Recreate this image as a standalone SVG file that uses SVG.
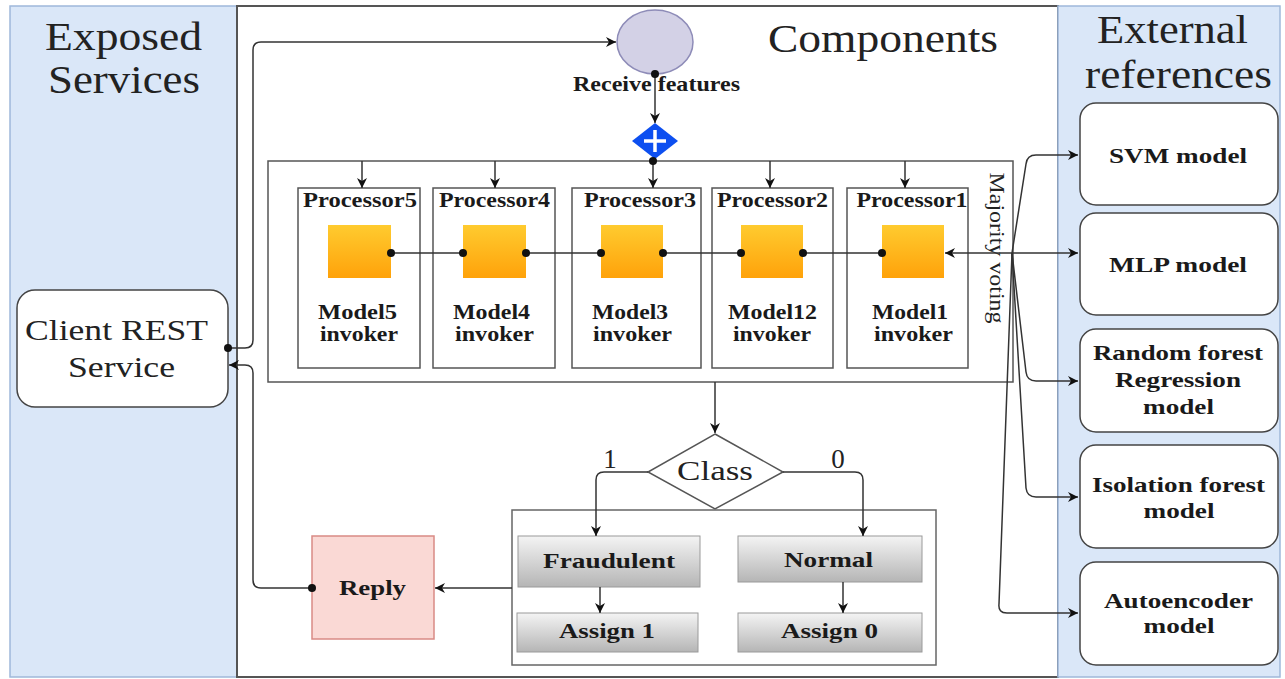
<svg xmlns="http://www.w3.org/2000/svg" width="1285" height="679" viewBox="0 0 1285 679">
<defs>
<marker id="ah" viewBox="0 0 10 10" refX="10" refY="5" markerWidth="10" markerHeight="10" orient="auto-start-reverse" markerUnits="userSpaceOnUse"><path d="M0,0 L10,5 L0,10 L3,5 z" fill="#111"/></marker>
<linearGradient id="gy" x1="0" y1="0" x2="0" y2="1"><stop offset="0" stop-color="#ffcb2f"/><stop offset="1" stop-color="#ffa20a"/></linearGradient>
<linearGradient id="gg" x1="0" y1="0" x2="0" y2="1"><stop offset="0" stop-color="#f4f4f4"/><stop offset="1" stop-color="#b5b5b5"/></linearGradient>
</defs>
<style>
.panel{fill:#dae7f8;stroke:#9fb8da;stroke-width:1.5}
.mid{fill:#fff;stroke:#555;stroke-width:2}
.box{fill:#fff;stroke:#555;stroke-width:1.5}
.rbox{fill:#fff;stroke:#444;stroke-width:1.5}
.ybox{fill:url(#gy);stroke:none}
.gbox{fill:url(#gg);stroke:#9a9a9a;stroke-width:1}
.ln{fill:none;stroke:#333;stroke-width:1.5}
.arr{fill:none;stroke:#333;stroke-width:1.5;marker-end:url(#ah)}
.dot{fill:#111}
.t{font-family:"Liberation Serif","Times New Roman",serif;fill:#222}
.big{font-size:41px}
.med{font-size:30px}
.b{font-weight:bold;font-size:21px;fill:#1a1a1a}
.c{text-anchor:middle}
</style>
<g id="panel-exposed">
<rect class="panel" x="10" y="6" width="227" height="671"/>
<text class="t big c" x="123.5" y="50" textLength="157" lengthAdjust="spacingAndGlyphs">Exposed</text>
<text class="t big c" x="124" y="93" textLength="152" lengthAdjust="spacingAndGlyphs">Services</text>
</g>
<g id="panel-components">
<rect class="mid" x="237" y="6" width="821" height="671"/>
<text class="t big c" x="883" y="52" textLength="230" lengthAdjust="spacingAndGlyphs">Components</text>
</g>
<g id="panel-external">
<rect class="panel" x="1058" y="6" width="222" height="671"/>
<text class="t big c" x="1172.5" y="43" textLength="151" lengthAdjust="spacingAndGlyphs">External</text>
<text class="t big c" x="1178.5" y="88" textLength="187" lengthAdjust="spacingAndGlyphs">references</text>
</g>
<g id="client-rest">
<rect class="rbox" x="17" y="290" width="211" height="117" rx="18"/>
<text class="t med c" x="116.5" y="340" textLength="183" lengthAdjust="spacingAndGlyphs">Client REST</text>
<text class="t med c" x="121.5" y="377" textLength="107" lengthAdjust="spacingAndGlyphs">Service</text>
</g>
<g id="receive-features">
<ellipse cx="655" cy="42" rx="38" ry="32" fill="#d3d1e6" stroke="#8e8cb8" stroke-width="1.5"/>
<text class="t b c" x="656.5" y="91" textLength="167" lengthAdjust="spacingAndGlyphs">Receive features</text>
</g>
<g id="parallel-gateway">
<path d="M655,123 L678,141 L655,159 L632,141 z" fill="#0d4ff0"/>
<path d="M655,130 V152 M644,141 H666" stroke="#fff" stroke-width="3.5"/>
</g>
<g id="majority-voting">
<rect x="268" y="161" width="745" height="221" fill="none" stroke="#555" stroke-width="1.5"/>
<text class="t c" font-size="22" transform="translate(990,248) rotate(90)" textLength="151" lengthAdjust="spacingAndGlyphs">Majority voting</text>
</g>
<g id="processor5">
<rect class="box" x="298" y="188" width="122" height="180"/>
<text class="t b c" x="360" y="207" textLength="114" lengthAdjust="spacingAndGlyphs">Processor5</text>
<rect class="ybox" x="328" y="225" width="63" height="53"/>
<text class="t b c" x="357.5" y="319" textLength="79" lengthAdjust="spacingAndGlyphs">Model5</text>
<text class="t b c" x="359" y="341" textLength="78" lengthAdjust="spacingAndGlyphs">invoker</text>
</g>
<g id="processor4">
<rect class="box" x="433" y="188" width="122" height="180"/>
<text class="t b c" x="494.5" y="207" textLength="111" lengthAdjust="spacingAndGlyphs">Processor4</text>
<rect class="ybox" x="463" y="225" width="63" height="53"/>
<text class="t b c" x="491.5" y="319" textLength="77" lengthAdjust="spacingAndGlyphs">Model4</text>
<text class="t b c" x="494.5" y="341" textLength="79" lengthAdjust="spacingAndGlyphs">invoker</text>
</g>
<g id="processor3">
<rect class="box" x="572" y="188" width="129" height="180"/>
<text class="t b c" x="640" y="207" textLength="112" lengthAdjust="spacingAndGlyphs">Processor3</text>
<rect class="ybox" x="601" y="225" width="62" height="53"/>
<text class="t b c" x="630" y="319" textLength="76" lengthAdjust="spacingAndGlyphs">Model3</text>
<text class="t b c" x="632.5" y="341" textLength="79" lengthAdjust="spacingAndGlyphs">invoker</text>
</g>
<g id="processor2">
<rect class="box" x="712" y="188" width="121" height="180"/>
<text class="t b c" x="772.5" y="207" textLength="111" lengthAdjust="spacingAndGlyphs">Processor2</text>
<rect class="ybox" x="741" y="225" width="62" height="53"/>
<text class="t b c" x="772.5" y="319" textLength="89" lengthAdjust="spacingAndGlyphs">Model12</text>
<text class="t b c" x="772" y="341" textLength="78" lengthAdjust="spacingAndGlyphs">invoker</text>
</g>
<g id="processor1">
<rect class="box" x="847" y="188" width="121" height="180"/>
<text class="t b c" x="912" y="207" textLength="111" lengthAdjust="spacingAndGlyphs">Processor1</text>
<rect class="ybox" x="882" y="225" width="62" height="53"/>
<text class="t b c" x="910" y="319" textLength="76" lengthAdjust="spacingAndGlyphs">Model1</text>
<text class="t b c" x="913.5" y="341" textLength="79" lengthAdjust="spacingAndGlyphs">invoker</text>
</g>
<g id="class-decision">
<path d="M715,434 L783,472 L715,509 L648,472 z" fill="#fff" stroke="#555" stroke-width="1.5"/>
<text class="t c" font-size="27" x="715" y="480" textLength="76" lengthAdjust="spacingAndGlyphs">Class</text>
</g>
<g id="result-group">
<rect x="512" y="510" width="424" height="155" fill="none" stroke="#666" stroke-width="1.5"/>
</g>
<g id="fraudulent">
<rect class="gbox" x="518" y="536" width="182" height="51"/>
<text class="t b c" x="609" y="568" textLength="132" lengthAdjust="spacingAndGlyphs">Fraudulent</text>
</g>
<g id="assign1">
<rect class="gbox" x="517" y="613" width="181" height="39"/>
<text class="t b c" x="607" y="638" textLength="96" lengthAdjust="spacingAndGlyphs">Assign 1</text>
</g>
<g id="normal">
<rect class="gbox" x="738" y="536" width="184" height="46"/>
<text class="t b c" x="828.5" y="567" textLength="89" lengthAdjust="spacingAndGlyphs">Normal</text>
</g>
<g id="assign0">
<rect class="gbox" x="738" y="613" width="184" height="39"/>
<text class="t b c" x="829.5" y="638" textLength="97" lengthAdjust="spacingAndGlyphs">Assign 0</text>
</g>
<g id="reply">
<rect x="312" y="536" width="122" height="103" fill="#fad9d5" stroke="#d98a85" stroke-width="1.5"/>
<text class="t b c" x="372.5" y="595" textLength="67" lengthAdjust="spacingAndGlyphs">Reply</text>
</g>
<g id="svm-model">
<rect class="rbox" x="1080" y="103" width="198" height="102" rx="16"/>
<text class="t b c" x="1178" y="163" textLength="138" lengthAdjust="spacingAndGlyphs">SVM model</text>
</g>
<g id="mlp-model">
<rect class="rbox" x="1080" y="213" width="198" height="102" rx="16"/>
<text class="t b c" x="1178" y="272" textLength="138" lengthAdjust="spacingAndGlyphs">MLP model</text>
</g>
<g id="rf-model">
<rect class="rbox" x="1080" y="329" width="198" height="103" rx="16"/>
<text class="t b c" x="1178" y="360" textLength="170" lengthAdjust="spacingAndGlyphs">Random forest</text>
<text class="t b c" x="1178" y="387" textLength="126" lengthAdjust="spacingAndGlyphs">Regression</text>
<text class="t b c" x="1178.5" y="414" textLength="71" lengthAdjust="spacingAndGlyphs">model</text>
</g>
<g id="if-model">
<rect class="rbox" x="1080" y="445" width="198" height="103" rx="16"/>
<text class="t b c" x="1178.5" y="492" textLength="173" lengthAdjust="spacingAndGlyphs">Isolation forest</text>
<text class="t b c" x="1179" y="518" textLength="71" lengthAdjust="spacingAndGlyphs">model</text>
</g>
<g id="ae-model">
<rect class="rbox" x="1080" y="562" width="198" height="103" rx="16"/>
<text class="t b c" x="1178.5" y="608" textLength="149" lengthAdjust="spacingAndGlyphs">Autoencoder</text>
<text class="t b c" x="1179" y="633" textLength="71" lengthAdjust="spacingAndGlyphs">model</text>
</g>
<g id="connectors">
<path class="arr" d="M228,348 H245 Q253,348 253,340 V50 Q253,42 261,42 H616"/>
<path class="arr" d="M655,74 V123"/>
<path class="ln" d="M653,158 V161"/>
<path class="arr" d="M653,161 V188"/>
<path class="arr" d="M362,161 V188"/>
<path class="arr" d="M495,161 V188"/>
<path class="arr" d="M770,161 V188"/>
<path class="arr" d="M905,161 V188"/>
<path class="ln" d="M391,253 H463 M526,253 H601 M663,253 H741 M803,253 H882"/>
<path class="arr" style="marker-start:url(#ah)" d="M945,253 H1078"/>
<path class="arr" d="M1012,253 L1026,164 Q1027,155 1036,155 H1078"/>
<path class="arr" d="M1012,253 L1026,372 Q1027,381 1036,381 H1078"/>
<path class="arr" d="M1012,253 L1026,488 Q1027,497 1036,497 H1078"/>
<path class="arr" d="M1012,253 L999,604 Q998,613 1007,613 H1078"/>
<path class="arr" d="M715,382 V433"/>
<path class="arr" d="M648,472 H604 Q596,472 596,480 V536"/>
<path class="arr" d="M783,472 H855 Q863,472 863,480 V536"/>
<path class="arr" d="M600,587 V613"/>
<path class="arr" d="M843,582 V613"/>
<path class="arr" d="M512,588 H435"/>
<path class="arr" d="M312,588 H261 Q253,588 253,580 V373 Q253,365 245,365 H229"/>
<circle class="dot" cx="228" cy="348" r="4"/>
<circle class="dot" cx="655" cy="74" r="4"/>
<circle class="dot" cx="653" cy="161" r="4"/>
<circle class="dot" cx="391" cy="253" r="4"/>
<circle class="dot" cx="463" cy="253" r="4"/>
<circle class="dot" cx="526" cy="253" r="4"/>
<circle class="dot" cx="601" cy="253" r="4"/>
<circle class="dot" cx="663" cy="253" r="4"/>
<circle class="dot" cx="741" cy="253" r="4"/>
<circle class="dot" cx="803" cy="253" r="4"/>
<circle class="dot" cx="882" cy="253" r="4"/>
<circle class="dot" cx="312" cy="588" r="4"/>
<text class="t c" font-size="27" x="610" y="468">1</text>
<text class="t c" font-size="27" x="838" y="468">0</text>
</g>
</svg>
